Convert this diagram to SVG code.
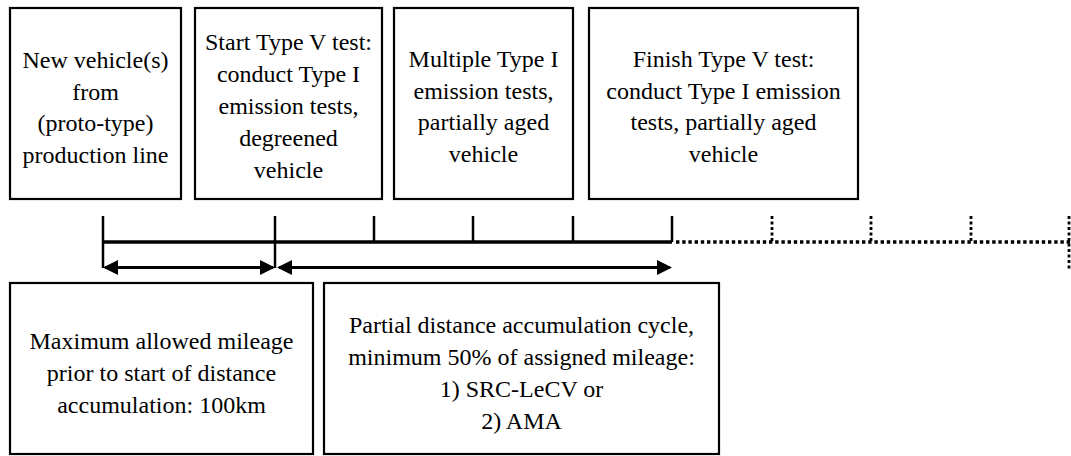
<svg xmlns="http://www.w3.org/2000/svg" width="1071" height="456" viewBox="0 0 1071 456">
<style>
.box{fill:#fff;stroke:#000;stroke-width:2.2}
.t{font-family:"Liberation Serif","Times New Roman",serif;font-size:24px;fill:#000;text-anchor:middle}
.tl{stroke:#000;stroke-width:3.5;fill:none}
.tk{stroke:#000;stroke-width:2.5;fill:none}
.dot{stroke:#000;stroke-width:3.5;fill:none;stroke-dasharray:3.4 2.8}
.dotv{stroke:#000;stroke-width:2.8;fill:none;stroke-dasharray:3 2.5}
.ar{stroke:#000;stroke-width:2.8;fill:none;marker-start:url(#ah);marker-end:url(#ah)}
</style>
<defs>
<marker id="ah" markerUnits="userSpaceOnUse" markerWidth="16" markerHeight="16" refX="13" refY="7.5" orient="auto-start-reverse" viewBox="0 0 16 16">
<path d="M0,0 L15,7.5 L0,15 Z" fill="#000"/>
</marker>
</defs>
<g id="node-new-vehicle">
<rect class="box" x="10" y="8" width="171" height="191"/>
<text class="t" x="95.5" y="68">New vehicle(s)</text>
<text class="t" x="95.5" y="100">from</text>
<text class="t" x="95.5" y="131">(proto-type)</text>
<text class="t" x="95.5" y="163">production line</text>
</g>
<g id="node-start-type-v">
<rect class="box" x="195" y="8" width="187" height="191"/>
<text class="t" x="288.5" y="50">Start Type V test:</text>
<text class="t" x="288.5" y="82">conduct Type I</text>
<text class="t" x="288.5" y="114">emission tests,</text>
<text class="t" x="288.5" y="146">degreened</text>
<text class="t" x="288.5" y="178">vehicle</text>
</g>
<g id="node-multiple-type-i">
<rect class="box" x="394" y="8" width="179" height="191"/>
<text class="t" x="483.5" y="67">Multiple Type I</text>
<text class="t" x="483.5" y="99">emission tests,</text>
<text class="t" x="483.5" y="130">partially aged</text>
<text class="t" x="483.5" y="162">vehicle</text>
</g>
<g id="node-finish-type-v">
<rect class="box" x="589" y="8" width="269" height="191"/>
<text class="t" x="723.5" y="67">Finish Type V test:</text>
<text class="t" x="723.5" y="99">conduct Type I emission</text>
<text class="t" x="723.5" y="130">tests, partially aged</text>
<text class="t" x="723.5" y="162">vehicle</text>
</g>
<g id="node-max-mileage">
<rect class="box" x="10" y="283" width="303" height="171"/>
<text class="t" x="161.5" y="349">Maximum allowed mileage</text>
<text class="t" x="161.5" y="381">prior to start of distance</text>
<text class="t" x="161.5" y="413">accumulation: 100km</text>
</g>
<g id="node-partial-distance">
<rect class="box" x="324" y="283" width="395" height="171"/>
<text class="t" x="521.5" y="333">Partial distance accumulation cycle,</text>
<text class="t" x="521.5" y="365">minimum 50% of assigned mileage:</text>
<text class="t" x="521.5" y="397">1) SRC-LeCV or</text>
<text class="t" x="521.5" y="429">2) AMA</text>
</g>
<g id="connectors">
<line class="tl" x1="103" y1="242" x2="672" y2="242"/>
<line class="tk" x1="103" y1="216" x2="103" y2="268"/>
<line class="tk" x1="275" y1="216" x2="275" y2="268"/>
<line class="tk" x1="374" y1="216" x2="374" y2="242"/>
<line class="tk" x1="473" y1="216" x2="473" y2="242"/>
<line class="tk" x1="573" y1="216" x2="573" y2="242"/>
<line class="tk" x1="672" y1="216" x2="672" y2="242"/>
<line class="dot" x1="676" y1="242" x2="1071" y2="242"/>
<line class="dotv" x1="772" y1="216" x2="772" y2="242"/>
<line class="dotv" x1="871" y1="216" x2="871" y2="242"/>
<line class="dotv" x1="971" y1="216" x2="971" y2="242"/>
<line class="dotv" x1="1069" y1="216" x2="1069" y2="270"/>
<line class="ar" x1="105" y1="267.5" x2="273" y2="267.5"/>
<line class="ar" x1="279" y1="267.5" x2="670" y2="267.5"/>
</g>
</svg>
